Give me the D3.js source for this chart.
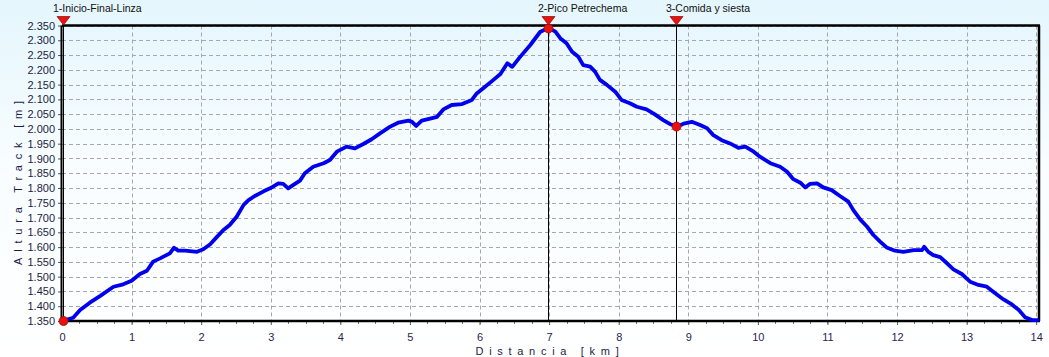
<!DOCTYPE html>
<html><head><meta charset="utf-8">
<script src="https://cdn.jsdelivr.net/npm/d3@7"></script>
<style>html,body{margin:0;padding:0;background:#fff}svg{display:block}text{font-family:"Liberation Sans",Arial,sans-serif}</style>
</head><body>
<script>
// ---- data ----
const distKm = [0,0.16,0.26,0.40,0.55,0.74,0.88,1.0,1.12,1.22,1.31,1.41,1.55,1.61,1.67,1.77,1.94,2.03,2.13,2.22,2.32,2.41,2.51,2.61,2.68,2.77,2.89,2.99,3.11,3.18,3.25,3.32,3.42,3.49,3.61,3.76,3.85,3.95,4.09,4.21,4.33,4.45,4.57,4.71,4.83,4.98,5.03,5.09,5.17,5.29,5.39,5.48,5.60,5.75,5.89,5.96,6.08,6.20,6.30,6.40,6.47,6.58,6.73,6.87,6.99,7.09,7.16,7.25,7.33,7.42,7.49,7.59,7.66,7.73,7.83,7.95,8.04,8.16,8.26,8.40,8.52,8.64,8.74,8.84,8.95,9.05,9.17,9.27,9.36,9.48,9.60,9.72,9.82,9.94,10.03,10.18,10.32,10.42,10.51,10.61,10.68,10.75,10.85,10.94,11.06,11.18,11.30,11.37,11.47,11.57,11.66,11.76,11.85,11.97,12.09,12.24,12.36,12.39,12.45,12.52,12.62,12.71,12.81,12.93,13.05,13.17,13.29,13.41,13.53,13.65,13.75,13.84,13.94,14.02];
const altM = [1350,1361,1387,1412,1435,1466,1474,1486,1509,1520,1551,1562,1579,1598,1588,1588,1584,1593,1610,1633,1658,1675,1703,1743,1759,1773,1788,1799,1816,1814,1799,1810,1825,1850,1872,1884,1895,1923,1940,1934,1949,1965,1985,2007,2021,2028,2024,2010,2028,2035,2041,2066,2081,2084,2098,2120,2143,2166,2186,2222,2210,2243,2284,2328,2342,2329,2307,2290,2261,2244,2216,2211,2194,2166,2149,2126,2098,2087,2075,2066,2049,2030,2016,2008,2019,2024,2013,2002,1979,1962,1951,1936,1940,1923,1906,1884,1872,1855,1830,1818,1802,1814,1816,1802,1793,1773,1754,1726,1694,1669,1641,1618,1599,1588,1584,1590,1590,1601,1584,1573,1566,1547,1525,1509,1483,1472,1466,1444,1423,1406,1387,1363,1353,1353];
const markerNames = ["1-Inicio-Final-Linza","2-Pico Petrechema","3-Comida y siesta"];
const markerKm = [0, 7.0, 8.84];
const markerAlt = [1350, 2340, 2008];
const xTickValues = [0,1,2,3,4,5,6,7,8,9,10,11,12,13,14];
const yTickValues = [1350,1400,1450,1500,1550,1600,1650,1700,1750,1800,1850,1900,1950,2000,2050,2100,2150,2200,2250,2300,2350];
const xTitle = "Distancia [km]";
const yTitle = "Altura Track [m]";

// ---- layout ----
const W = 1049, H = 357;
const L = 62, R = 1039, T = 25.5, B = 321;

const svg = d3.select("body").append("svg").attr("width", W).attr("height", H);
const defs = svg.append("defs");
const g = defs.append("linearGradient").attr("id","bg").attr("x1",0).attr("y1",0).attr("x2",0).attr("y2",1);
g.append("stop").attr("offset","0%").attr("stop-color","#e4f6fd");
g.append("stop").attr("offset","45%").attr("stop-color","#f8fdff");
g.append("stop").attr("offset","100%").attr("stop-color","#ffffff");
svg.append("rect").attr("width",W).attr("height",H).attr("fill","url(#bg)");

const x = d3.scaleLinear().domain([0, 14.04]).range([L, R]);
const y = d3.scaleLinear().domain([1350, 2350]).range([B, T]);

// grid
svg.append("g").selectAll("line").data(yTickValues.slice(1)).join("line")
  .attr("x1", L).attr("x2", R).attr("y1", d => Math.round(y(d))+0.5).attr("y2", d => Math.round(y(d))+0.5)
  .attr("stroke","#a8a8a8").attr("stroke-dasharray","4,3");
svg.append("g").selectAll("line").data(xTickValues.slice(1)).join("line")
  .attr("x1", d => Math.round(x(d))+0.5).attr("x2", d => Math.round(x(d))+0.5).attr("y1", T).attr("y2", B)
  .attr("stroke","#a8a8a8").attr("stroke-dasharray","4,3");

// axes
const fmtLocale = d3.formatLocale({decimal:",", thousands:".", grouping:[3], currency:["","€"]});
const yAxis = d3.axisLeft(y).tickValues(yTickValues).tickFormat(fmtLocale.format(",d")).tickSize(4).tickPadding(3);
const ya = svg.append("g").attr("transform",`translate(${L},0)`).call(yAxis);
ya.select(".domain").remove();
ya.selectAll("line").attr("stroke","#555");
ya.selectAll("text").attr("font-size","11px").attr("fill","#1c1c44");

const minorTicks = d3.range(0, 14.01, 0.25);
const xAxis = d3.axisBottom(x).tickValues(xTickValues).tickFormat(d3.format("d")).tickSize(4).tickPadding(8);
const xa = svg.append("g").attr("transform",`translate(0,${B})`).call(xAxis);
xa.select(".domain").remove();
xa.selectAll("line").attr("stroke","#555");
xa.selectAll("text").attr("font-size","11px").attr("fill","#2a1c50");
svg.append("g").selectAll("line").data(minorTicks).join("line")
  .attr("x1", d => Math.round(x(d))+0.5).attr("x2", d => Math.round(x(d))+0.5)
  .attr("y1", B).attr("y2", B+3).attr("stroke","#777");

// frame
svg.append("line").attr("x1",L).attr("x2",R+1).attr("y1",T).attr("y2",T).attr("stroke","#000").attr("stroke-width",2.5);
svg.append("line").attr("x1",R).attr("x2",R).attr("y1",T).attr("y2",B).attr("stroke","#000").attr("stroke-width",2.5);
svg.append("line").attr("x1",L-1).attr("x2",R+1).attr("y1",B).attr("y2",B).attr("stroke","#000").attr("stroke-width",2.5);
svg.append("line").attr("x1",L-0.5).attr("x2",L-0.5).attr("y1",T).attr("y2",B).attr("stroke","#000").attr("stroke-width",2);

// marker lines
const mx = d => Math.max(Math.round(x(d)) - 0.5, L + 1.5);
svg.append("g").selectAll("line").data(markerKm).join("line")
  .attr("x1", mx).attr("x2", mx).attr("y1", T).attr("y2", B)
  .attr("stroke","#000").attr("stroke-width",1);

// profile line
const pts = distKm.map((d,i) => [d, altM[i]]);
svg.append("path").datum(pts)
  .attr("d", d3.line().x(d => x(d[0])).y(d => y(d[1])))
  .attr("fill","none").attr("stroke","#0000ee").attr("stroke-width",3.8)
  .attr("stroke-linejoin","round").attr("stroke-linecap","round");

// marker dots
svg.append("g").selectAll("circle").data(markerKm).join("circle")
  .attr("cx", mx).attr("cy", (d,i) => y(markerAlt[i]))
  .attr("r", 4.5).attr("fill","#e8120e").attr("stroke","#9a0a08").attr("stroke-width",0.8);

// triangles and labels
const mk = svg.append("g").selectAll("g").data(markerKm).join("g")
  .attr("transform", d => `translate(${mx(d)},0)`);
mk.append("path").attr("d", `M-6.5,${T-9}L6.5,${T-9}L0,${T-0.5}Z`)
  .attr("fill","#e8120e").attr("stroke","#8a0a08").attr("stroke-width",0.7);
mk.append("text").text((d,i) => markerNames[i])
  .attr("x",-10.5).attr("y",12).attr("font-size","10.5px").attr("fill","#111");

// titles
svg.append("text").text(xTitle).attr("x",550).attr("y",355).attr("text-anchor","middle")
  .attr("font-size","11px").attr("letter-spacing","5.7px").attr("fill","#1c1c44");
svg.append("text").text(yTitle).attr("transform","translate(22,180) rotate(-90)").attr("text-anchor","middle")
  .attr("font-size","11px").attr("letter-spacing","5.8px").attr("fill","#1c1c44");
</script>
</body></html>
